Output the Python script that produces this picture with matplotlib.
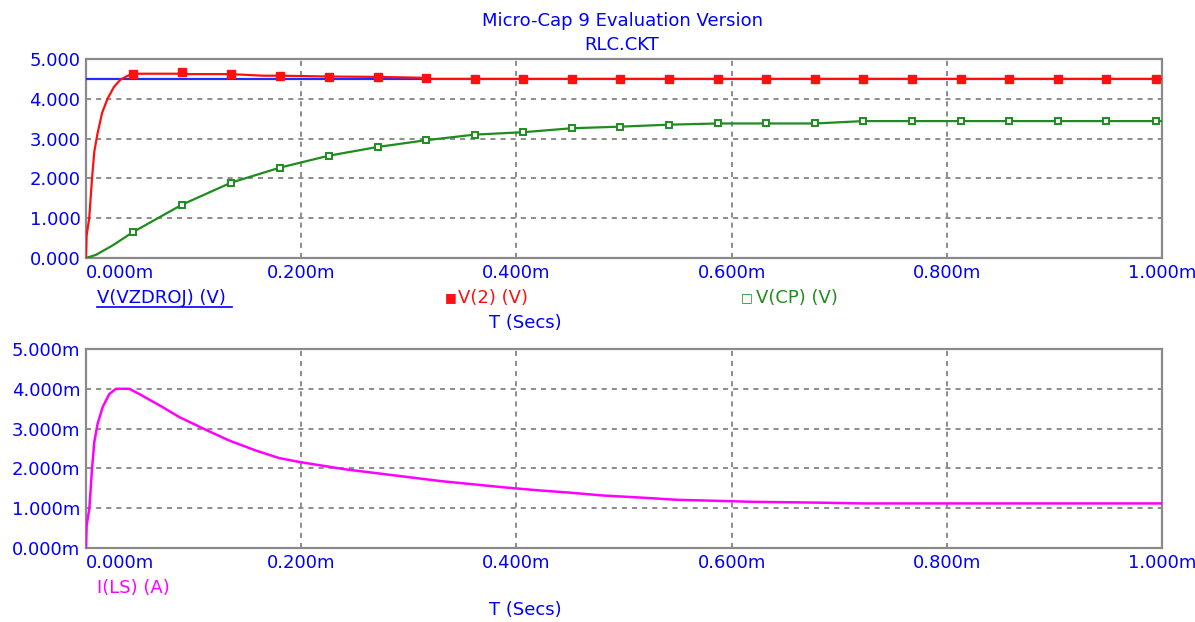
import matplotlib.pyplot as plt
from matplotlib.lines import Line2D

# eje de tiempo en ms (las etiquetas llevan la "m")
t_ticks = [0.0, 0.2, 0.4, 0.6, 0.8, 1.0]
t_labels = ["0.000m", "0.200m", "0.400m", "0.600m", "0.800m", "1.000m"]
v_ticks = [0, 1, 2, 3, 4, 5]
v_labels = ["0.000", "1.000", "2.000", "3.000", "4.000", "5.000"]
i_labels = ["0.000m", "1.000m", "2.000m", "3.000m", "4.000m", "5.000m"]

# V(VZDROJ)
t_vz = [0.0, 1.0]
v_vz = [4.5, 4.5]

# V(2) - curva
t_v2 = [0.0, 0.0006, 0.003, 0.0056, 0.0077, 0.0105, 0.015, 0.020, 0.026,
        0.032, 0.038, 0.0436, 0.085, 0.0892, 0.095, 0.1346, 0.165, 0.1801,
        0.2256, 0.2711, 0.31, 0.3163, 1.0]
v_v2 = [0.0, 0.57, 1.0, 2.0, 2.67, 3.1, 3.65, 4.0, 4.3,
        4.48, 4.57, 4.63, 4.63, 4.67, 4.62, 4.62, 4.58, 4.58,
        4.56, 4.55, 4.53, 4.50, 4.50]

# posiciones de los marcadores (iguales para V(2) y V(CP))
t_mark = [0.0436, 0.0892, 0.1346, 0.1801, 0.2256, 0.2711, 0.3163, 0.3612,
          0.4061, 0.4515, 0.4965, 0.5416, 0.5871, 0.6320, 0.6776, 0.7224,
          0.7676, 0.8131, 0.8579, 0.9034, 0.9480, 0.9941]
v2_mark = [4.63, 4.67, 4.62, 4.58, 4.56, 4.55, 4.52, 4.50,
           4.50, 4.50, 4.50, 4.50, 4.50, 4.50, 4.50, 4.50,
           4.50, 4.50, 4.50, 4.50, 4.50, 4.50]
cp_mark = [0.65, 1.34, 1.89, 2.27, 2.57, 2.79, 2.96, 3.10,
           3.16, 3.26, 3.30, 3.35, 3.38, 3.38, 3.38, 3.44,
           3.44, 3.44, 3.44, 3.44, 3.44, 3.44]

# V(CP) - curva
t_cp = [0.0, 0.0093, 0.025] + t_mark + [1.0]
v_cp = [0.0, 0.08, 0.32] + cp_mark + [3.44]

# I(LS) en mA
t_ls = [0.0, 0.0006, 0.0031, 0.0056, 0.0077, 0.0108, 0.0155, 0.0217, 0.0279,
        0.0402, 0.0495, 0.0712, 0.0867, 0.1114, 0.1331, 0.1578, 0.1795,
        0.1987, 0.24, 0.27, 0.30, 0.33, 0.36, 0.39, 0.42, 0.45, 0.48,
        0.52, 0.55, 0.58, 0.62, 0.68, 0.72, 1.0]
i_ls = [0.0, 0.57, 0.99, 1.99, 2.66, 3.12, 3.54, 3.87, 4.0,
        4.0, 3.87, 3.54, 3.29, 2.97, 2.70, 2.45, 2.26,
        2.16, 1.98, 1.88, 1.78, 1.68, 1.60, 1.52, 1.45, 1.39, 1.32,
        1.26, 1.21, 1.19, 1.16, 1.14, 1.12, 1.12]

azul = "#0000ff"
W, H = 1195, 622
fs = 13

fig = plt.figure(figsize=(W / 100, H / 100), dpi=100)
ax1 = fig.add_axes([86 / W, 1 - 258 / H, 1076 / W, 199 / H])
ax2 = fig.add_axes([86 / W, 1 - 548 / H, 1076 / W, 199 / H])


def preparar(ax, ylabels):
    ax.set_xlim(0, 1.0)
    ax.set_ylim(0, 5)
    ax.set_xticks(t_ticks)
    ax.set_xticklabels(t_labels)
    ax.set_yticks(v_ticks)
    ax.set_yticklabels(ylabels)
    ax.tick_params(length=0, colors=azul, labelsize=fs, pad=4)
    ax.get_xticklabels()[0].set_ha("left")
    for s in ax.spines.values():
        s.set_color("#8a8a8a")
        s.set_linewidth(1.6)
    ax.grid(True, color="#8c8c8c", linestyle=(0, (2.6, 2.6)), linewidth=1.4)
    ax.set_axisbelow(True)


preparar(ax1, v_labels)
preparar(ax2, i_labels)

ax1.plot(t_vz, v_vz, color="#1f2fff", lw=1.6, zorder=3)
ax1.plot(t_v2, v_v2, color="#ff1010", lw=1.6, zorder=4)
ax1.plot(t_mark, v2_mark, ls="none", marker="s", ms=6, color="#ff1010", zorder=5)
ax1.plot(t_cp, v_cp, color="#1e8c1e", lw=1.6, zorder=3)
ax1.plot(t_mark, cp_mark, ls="none", marker="s", ms=5, mfc="white",
         mec="#1e8c1e", mew=1.4, zorder=5)

ax2.plot(t_ls, i_ls, color="#ff00ff", lw=1.8, zorder=3)

# textos de cabecera
fig.text(622 / W, 1 - 21 / H, "Micro-Cap 9 Evaluation Version", color=azul,
         fontsize=fs, ha="center", va="center")
fig.text(622 / W, 1 - 45 / H, "RLC.CKT", color=azul, fontsize=fs,
         ha="center", va="center")

# leyendas del panel superior
fig.text(97 / W, 1 - 298 / H, "V(VZDROJ) (V)", color=azul, fontsize=fs,
         ha="left", va="center")
fig.add_artist(Line2D([97 / W, 232 / W], [1 - 307 / H, 1 - 307 / H],
                      color=azul, lw=1.2))
fig.text(445 / W, 1 - 298 / H, "\u25a0", color="#ff1010", fontsize=9,
         ha="left", va="center")
fig.text(458 / W, 1 - 298 / H, "V(2) (V)", color="#ff1010", fontsize=fs,
         ha="left", va="center")
fig.text(741 / W, 1 - 298 / H, "\u25a1", color="#1e8c1e", fontsize=9,
         ha="left", va="center")
fig.text(756 / W, 1 - 298 / H, "V(CP) (V)", color="#1e8c1e", fontsize=fs,
         ha="left", va="center")
fig.text(525 / W, 1 - 323 / H, "T (Secs)", color=azul, fontsize=fs,
         ha="center", va="center")

# leyendas del panel inferior
fig.text(97 / W, 1 - 588 / H, "I(LS) (A)", color="#ff00ff", fontsize=fs,
         ha="left", va="center")
fig.text(525 / W, 1 - 610 / H, "T (Secs)", color=azul, fontsize=fs,
         ha="center", va="center")

fig.savefig("out.png", dpi=100)
